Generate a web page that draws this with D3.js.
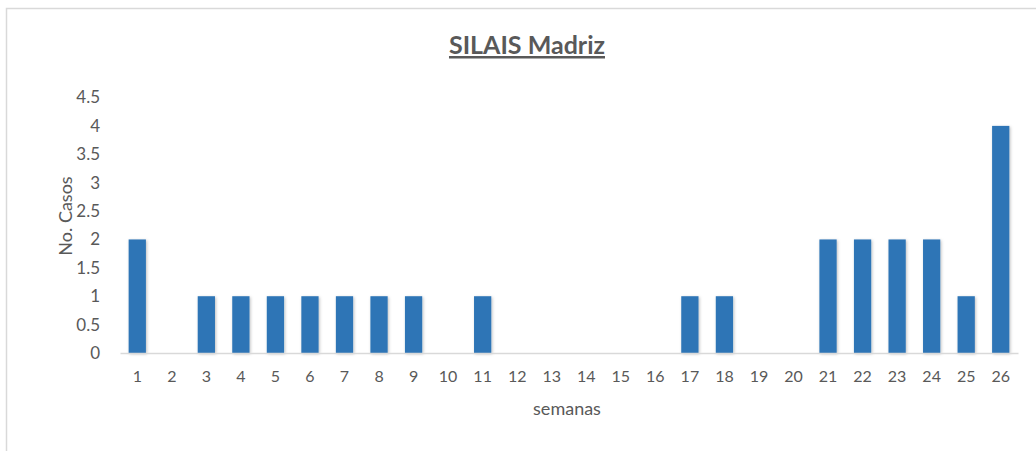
<!DOCTYPE html>
<html lang="es">
<head>
    <meta charset="UTF-8">
    <title>SILAIS Madriz</title>
    <style>
        body { margin: 0; background: #fff; }
        svg { display: block; }
        text { font-family: Lato, "Open Sans", sans-serif; fill: #595959; }
    </style>
</head>
<body>
    <svg id="chart" width="1036" height="451"></svg>

    <script src="https://d3js.org/d3.v7.min.js"></script>
    <script>
        // Chart data
        var semanas = ['1','2','3','4','5','6','7','8','9','10','11','12','13','14','15','16','17','18','19','20','21','22','23','24','25','26'];
        var casos = [2, 0, 1, 1, 1, 1, 1, 1, 1, 0, 1, 0, 0, 0, 0, 0, 1, 1, 0, 0, 2, 2, 2, 2, 1, 4];
        var yTicks = [0, 0.5, 1, 1.5, 2, 2.5, 3, 3.5, 4, 4.5];

        var svg = d3.select('#chart');

        // Outer chart border (only top/left visible in the frame)
        svg.append('rect')
            .attr('x', 6.5)
            .attr('y', 8.5)
            .attr('width', 1040)
            .attr('height', 460)
            .attr('fill', 'none')
            .attr('stroke', '#d9d9d9')
            .attr('stroke-width', 1.5);

        var margin = { left: 120, right: 18, top: 97.5, bottom: 98 };
        var width = 1036 - margin.left - margin.right;
        var height = 451 - margin.top - margin.bottom;

        var g = svg.append('g')
            .attr('transform', 'translate(' + margin.left + ',' + margin.top + ')');

        var x = d3.scaleBand()
            .domain(semanas)
            .range([0, width])
            .paddingInner(0.5)
            .paddingOuter(0.25);

        var y = d3.scaleLinear()
            .domain([0, 4.5])
            .range([height, 0]);

        // soft shadow like the original
        var defs = svg.append('defs');
        var f = defs.append('filter').attr('id', 'shadow')
            .attr('x', '-30%').attr('y', '-5%').attr('width', '160%').attr('height', '115%');
        f.append('feDropShadow')
            .attr('dx', 1).attr('dy', 1)
            .attr('stdDeviation', 1.5)
            .attr('flood-color', '#000')
            .attr('flood-opacity', 0.25);

        // Bars
        g.selectAll('.bar')
            .data(casos)
            .enter().append('rect')
            .attr('class', 'bar')
            .attr('x', function(d, i) { return x(semanas[i]); })
            .attr('y', function(d) { return y(d); })
            .attr('width', x.bandwidth())
            .attr('height', function(d) { return height - y(d); })
            .attr('fill', '#2e75b6')
            .attr('filter', 'url(#shadow)');

        // Y axis (labels only)
        var yAxis = g.append('g')
            .call(d3.axisLeft(y).tickValues(yTicks).tickSize(0).tickPadding(20)
                .tickFormat(function(d) { return String(d); }));
        yAxis.select('.domain').remove();
        yAxis.selectAll('text')
            .style('font-size', '17px')
            .attr('fill', '#595959');

        // X axis
        var xAxis = g.append('g')
            .attr('transform', 'translate(0,' + height + ')')
            .call(d3.axisBottom(x).tickSize(0).tickPadding(18));
        xAxis.select('.domain')
            .attr('stroke', '#d9d9d9')
            .attr('stroke-width', 1.5);
        xAxis.selectAll('text')
            .style('font-size', '16px')
            .attr('fill', '#595959');

        // Title
        svg.append('text')
            .attr('x', 527)
            .attr('y', 54)
            .attr('text-anchor', 'middle')
            .style('font-size', '25px')
            .style('font-weight', 'bold')
            .style('text-decoration', 'underline')
            .text('SILAIS Madriz');

        // Axis titles
        svg.append('text')
            .attr('x', 567)
            .attr('y', 415)
            .attr('text-anchor', 'middle')
            .style('font-size', '18px')
            .text('semanas');

        svg.append('text')
            .attr('transform', 'translate(72,216) rotate(-90)')
            .attr('text-anchor', 'middle')
            .style('font-size', '18px')
            .text('No. Casos');
    </script>
</body>
</html>
